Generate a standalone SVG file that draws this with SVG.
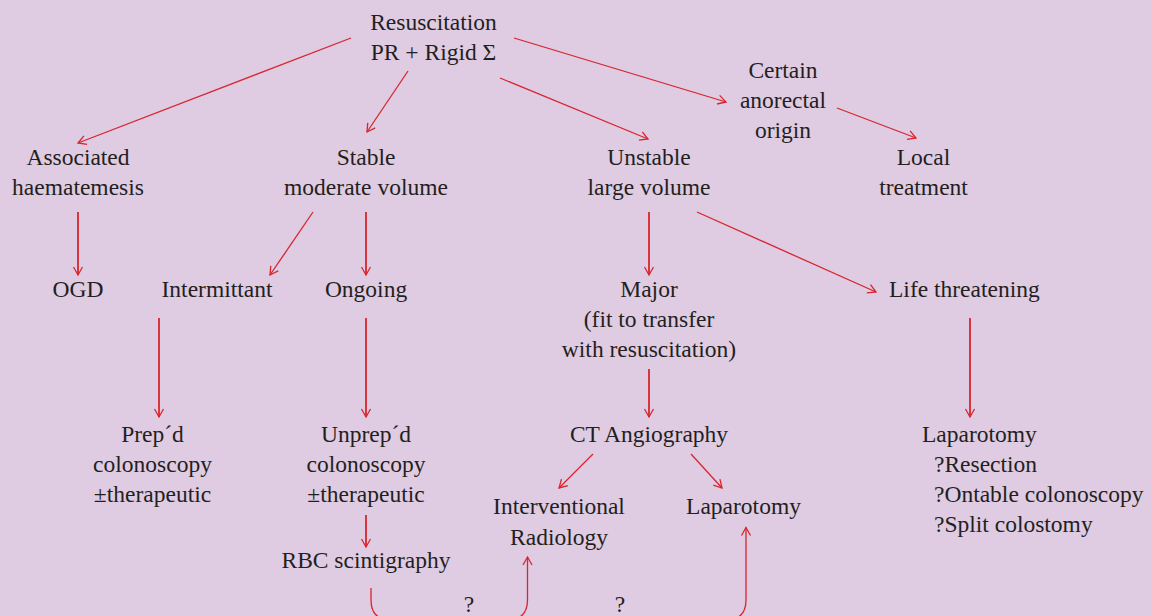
<svg xmlns="http://www.w3.org/2000/svg" width="1152" height="616" viewBox="0 0 1152 616">
<style>
text{font-family:"Liberation Serif","Times New Roman",serif;font-size:23.5px;fill:#231f20}
.c{text-anchor:middle}
.l{fill:none;stroke:#d7262e;stroke-width:1.3}
.v{stroke-width:1.8}
</style>
<defs>
<marker id="ah" markerUnits="userSpaceOnUse" markerWidth="20" markerHeight="20" viewBox="-10 -10 20 20" refX="0" refY="0" orient="auto">
<path d="M-8,-4.5 L0,0 L-8,4.5" fill="none" stroke="#d7262e" stroke-width="1.3"/>
</marker>
</defs>
<rect width="1152" height="616" fill="#dfcbe2"/>
<g id="connectors">
<line class="l" x1="351" y1="38" x2="78" y2="143" marker-end="url(#ah)"/>
<line class="l" x1="408" y1="71" x2="367" y2="132" marker-end="url(#ah)"/>
<line class="l" x1="500" y1="78" x2="648" y2="139" marker-end="url(#ah)"/>
<line class="l" x1="514" y1="38" x2="726" y2="102" marker-end="url(#ah)"/>
<line class="l" x1="837" y1="108" x2="916" y2="138" marker-end="url(#ah)"/>
<line class="l v" x1="78" y1="212" x2="78" y2="275" marker-end="url(#ah)"/>
<line class="l" x1="313" y1="212" x2="270" y2="275" marker-end="url(#ah)"/>
<line class="l v" x1="366" y1="212" x2="366" y2="275" marker-end="url(#ah)"/>
<line class="l v" x1="649" y1="212" x2="649" y2="275" marker-end="url(#ah)"/>
<line class="l" x1="697" y1="212" x2="876" y2="292" marker-end="url(#ah)"/>
<line class="l v" x1="159" y1="318" x2="159" y2="417" marker-end="url(#ah)"/>
<line class="l v" x1="366" y1="318" x2="366" y2="417" marker-end="url(#ah)"/>
<line class="l v" x1="649" y1="369" x2="649" y2="417" marker-end="url(#ah)"/>
<line class="l v" x1="970" y1="318" x2="970" y2="417" marker-end="url(#ah)"/>
<line class="l" x1="593" y1="454" x2="559" y2="488" marker-end="url(#ah)"/>
<line class="l" x1="691" y1="454" x2="722" y2="488" marker-end="url(#ah)"/>
<line class="l v" x1="366" y1="515" x2="366" y2="547" marker-end="url(#ah)"/>
<path class="l" d="M371,588 V600 Q371,620 391,620 H507 Q527.5,620 527.5,600 V557" marker-end="url(#ah)"/>
<path class="l" d="M600,620 H726 Q746,620 746,600 V527.5" marker-end="url(#ah)"/>
</g>
<g id="resuscitation"><text class="c" x="433.5" y="29.5">Resuscitation</text><text class="c" x="433.5" y="60">PR + Rigid Σ</text></g>
<g id="certain"><text class="c" x="783" y="78">Certain</text><text class="c" x="783" y="108">anorectal</text><text class="c" x="783" y="138">origin</text></g>
<g id="associated"><text class="c" x="78" y="165">Associated</text><text class="c" x="78" y="195">haematemesis</text></g>
<g id="stable"><text class="c" x="366" y="165">Stable</text><text class="c" x="366" y="195">moderate volume</text></g>
<g id="unstable"><text class="c" x="649" y="165">Unstable</text><text class="c" x="649" y="195">large volume</text></g>
<g id="local"><text class="c" x="923.5" y="165">Local</text><text class="c" x="923.5" y="195">treatment</text></g>
<g id="ogd"><text class="c" x="78" y="297">OGD</text></g>
<g id="intermittant"><text class="c" x="217" y="297">Intermittant</text></g>
<g id="ongoing"><text class="c" x="366" y="297">Ongoing</text></g>
<g id="major"><text class="c" x="649" y="297">Major</text><text class="c" x="649" y="327">(fit to transfer</text><text class="c" x="649" y="357">with resuscitation)</text></g>
<g id="life"><text x="889" y="297">Life threatening</text></g>
<g id="prepd"><text class="c" x="152.5" y="442">Prep´d</text><text class="c" x="152.5" y="472">colonoscopy</text><text class="c" x="152.5" y="502">±therapeutic</text></g>
<g id="unprepd"><text class="c" x="366" y="442">Unprep´d</text><text class="c" x="366" y="472">colonoscopy</text><text class="c" x="366" y="502">±therapeutic</text></g>
<g id="rbc"><text class="c" x="366" y="568">RBC scintigraphy</text></g>
<g id="ct"><text class="c" x="649" y="442">CT Angiography</text></g>
<g id="ir"><text class="c" x="559" y="514">Interventional</text><text class="c" x="559" y="545">Radiology</text></g>
<g id="laparotomy1"><text class="c" x="743.5" y="514">Laparotomy</text></g>
<g id="laparotomy2"><text x="922" y="442">Laparotomy</text><text x="934" y="472">?Resection</text><text x="934" y="502">?Ontable colonoscopy</text><text x="934" y="532">?Split colostomy</text></g>
<g id="q1"><text class="c" x="469" y="612">?</text></g>
<g id="q2"><text class="c" x="620" y="612">?</text></g>
</svg>
